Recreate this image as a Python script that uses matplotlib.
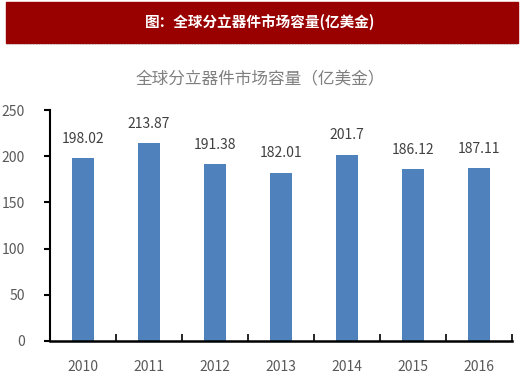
import matplotlib.pyplot as plt
from matplotlib.patches import Rectangle
from matplotlib.lines import Line2D

plt.rcParams['font.family'] = ['Noto Sans CJK SC', 'DejaVu Sans']

years = ['2010', '2011', '2012', '2013', '2014', '2015', '2016']
values = [198.02, 213.87, 191.38, 182.01, 201.7, 186.12, 187.11]
value_labels = ['198.02', '213.87', '191.38', '182.01', '201.7', '186.12', '187.11']

fig = plt.figure(figsize=(5.2, 3.86), dpi=100)

# red header band
fig.patches.append(Rectangle((6 / 520, 1 - 43 / 386), 512 / 520, 41 / 386,
                             transform=fig.transFigure, color='#990000', zorder=0))
fig.lines.append(Line2D([6 / 520, 518 / 520], [1 - 44 / 386] * 2, transform=fig.transFigure,
                        color='#bbbbbb', lw=0.8, ls=':'))
fig.text(0.5, 1 - 22 / 386, '图：全球分立器件市场容量(亿美金)', color='white',
         fontsize=10.5, fontweight='bold', ha='center', va='center')

ax = fig.add_axes([50 / 520, 45 / 386, 462 / 520, 231 / 386])
x = range(len(years))
ax.bar(x, values, width=0.33, color='#4F81BD', zorder=2)
for i, (v, lab) in enumerate(zip(values, value_labels)):
    ax.annotate(lab, (i, v), xytext=(0, 9), textcoords='offset points',
                ha='center', va='bottom', fontsize=10, color='#404040')

ax.set_xlim(-0.5, 6.5)
ax.set_ylim(0, 250)
ax.set_yticks([0, 50, 100, 150, 200, 250])
ax.set_xticks(list(x))
ax.set_xticklabels(years)
ax.set_xticks([i - 0.5 for i in range(8)], minor=True)
ax.tick_params(axis='x', which='major', length=0, pad=14, labelsize=10, labelcolor='#595959')
ax.tick_params(axis='x', which='minor', direction='in', length=5, width=1.2)
ax.tick_params(axis='y', direction='out', length=4, width=1.5, pad=14,
               labelsize=10, labelcolor='#595959')

for s in ['top', 'right']:
    ax.spines[s].set_visible(False)
ax.spines['left'].set_linewidth(1.5)
ax.spines['bottom'].set_linewidth(1.8)

fig.text(0.5, 1 - 80 / 386, '全球分立器件市场容量（亿美金）', color='#7f7f7f',
         fontsize=12, ha='center', va='center')

fig.savefig('out.png', dpi=100)
